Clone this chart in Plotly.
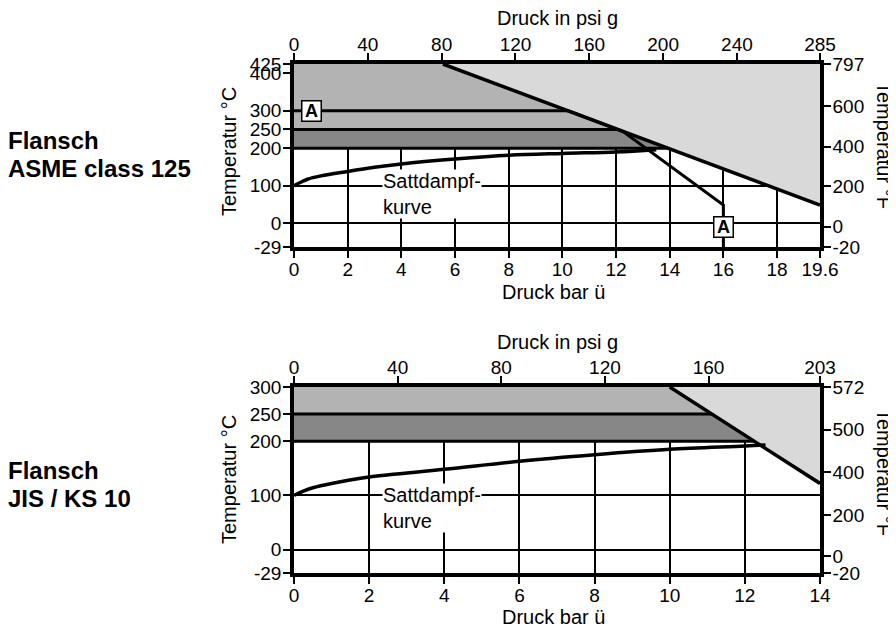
import numpy as np
import plotly.graph_objects as go

# the page body has an 8 px margin, so the figure is laid out in screen pixels minus 8
OFF = 8
W, H = 896 - OFF, 626 - OFF
FONT = "Liberation Sans, Arial, Helvetica, sans-serif"

# ---------------- top chart: Flansch ASME class 125 ----------------
top_bar_ticks = [0, 2, 4, 6, 8, 10, 12, 14, 16, 18, 19.6]
top_bar_labels = ["0", "2", "4", "6", "8", "10", "12", "14", "16", "18", "19.6"]
top_psi_ticks = [0, 40, 80, 120, 160, 200, 240, 285]
top_psi_labels = ["0", "40", "80", "120", "160", "200", "240", "285"]
top_c_ticks = [425, 400, 300, 250, 200, 100, 0, -29]
top_c_labels = ["425", "400", "300", "250", "200", "100", "0", "-29"]
top_f_labels = ["797", "600", "400", "200", "0", "-20"]
top_f_pos_c = [425, 313, 204, 98, -4.4, -29]

top_limit_x = [5.55, 19.6]
top_limit_t = [425, 48]
top_a_x = [0, 10.22, 12.25, 16, 16]
top_a_t = [300, 300, 245, 48, -29]
top_sat_x = [0, 0.25, 0.5, 1, 2, 3, 4, 6, 8, 10, 12, 13.5]
top_sat_t = [100, 109, 117, 126, 138, 149, 158, 171, 181, 186, 190, 196]
top_bands = [250, 200]
top_tmax, top_tmin = 425, -29
top_xmax = 19.6

# ---------------- bottom chart: Flansch JIS / KS 10 ----------------
bot_bar_ticks = [0, 2, 4, 6, 8, 10, 12, 14]
bot_bar_labels = ["0", "2", "4", "6", "8", "10", "12", "14"]
bot_psi_ticks = [0, 40, 80, 120, 160, 203]
bot_psi_labels = ["0", "40", "80", "120", "160", "203"]
bot_c_ticks = [300, 250, 200, 100, 0, -29]
bot_c_labels = ["300", "250", "200", "100", "0", "-29"]
bot_f_labels = ["572", "500", "400", "200", "0", "-20"]
bot_f_pos_c = [300, 221, 143, 64, -8, -29]

bot_limit_x = [10.0, 14]
bot_limit_t = [300, 122]
bot_sat_x = [0, 0.25, 0.5, 1, 2, 4, 6, 8, 10, 12, 12.55]
bot_sat_t = [100, 108, 114, 122, 134, 148, 163, 175, 185, 191, 193]
bot_bands = [250, 200]
bot_tmax, bot_tmin = 300, -29
bot_xmax = 14

# the diagram stretches the segment below 0 °C
K_TOP = 64 / 29
K_BOT = 43.3 / 29


def disp(vals, k):
    return [v if v >= 0 else v * k for v in vals]


def limit_x_at(t, lx, lt):
    return float(np.interp(t, lt[::-1], lx[::-1]))


LIGHT, MED, DARK = "#d9d9d9", "#b3b3b3", "#878787"

fig = go.Figure()


def add_chart(xa, ya, lx, lt, bands, tmax, xmax, sat_x, sat_t, k, a_path=None):
    x_up = limit_x_at(bands[0], lx, lt)
    x_lo = limit_x_at(bands[1], lx, lt)
    fig.add_trace(go.Scatter(x=[lx[0], xmax, lx[1]], y=disp([tmax, tmax, lt[1]], k),
                             fill="toself", fillcolor=LIGHT, mode="none",
                             xaxis=xa, yaxis=ya, hoverinfo="skip", showlegend=False))
    fig.add_trace(go.Scatter(x=[0, 0, lx[0], x_up], y=disp([bands[0], tmax, tmax, bands[0]], k),
                             fill="toself", fillcolor=MED, mode="none",
                             xaxis=xa, yaxis=ya, hoverinfo="skip", showlegend=False))
    fig.add_trace(go.Scatter(x=[0, 0, x_up, x_lo], y=disp([bands[1], bands[0], bands[0], bands[1]], k),
                             fill="toself", fillcolor=DARK, mode="none",
                             xaxis=xa, yaxis=ya, hoverinfo="skip", showlegend=False))
    for t, xe in zip(bands, [x_up, x_lo]):
        fig.add_trace(go.Scatter(x=[0, xe], y=disp([t, t], k), mode="lines",
                                 line=dict(color="black", width=3),
                                 xaxis=xa, yaxis=ya, hoverinfo="skip", showlegend=False))
    fig.add_trace(go.Scatter(x=lx, y=disp(lt, k), mode="lines",
                             line=dict(color="black", width=3.5),
                             xaxis=xa, yaxis=ya, hoverinfo="skip", showlegend=False))
    if a_path is not None:
        fig.add_trace(go.Scatter(x=a_path[0], y=disp(a_path[1], k), mode="lines",
                                 line=dict(color="black", width=3),
                                 xaxis=xa, yaxis=ya, hoverinfo="skip", showlegend=False))
    fig.add_trace(go.Scatter(x=sat_x, y=disp(sat_t, k), mode="lines",
                             line=dict(color="black", width=3.5, shape="spline"),
                             xaxis=xa, yaxis=ya, hoverinfo="skip", showlegend=False))


add_chart("x", "y", top_limit_x, top_limit_t, top_bands, top_tmax, top_xmax,
          top_sat_x, top_sat_t, K_TOP, a_path=(top_a_x, top_a_t))
add_chart("x3", "y3", bot_limit_x, bot_limit_t, bot_bands, bot_tmax, bot_xmax,
          bot_sat_x, bot_sat_t, K_BOT)
fig.add_trace(go.Scatter(x=[], y=[], xaxis="x2", yaxis="y2", showlegend=False))
fig.add_trace(go.Scatter(x=[], y=[], xaxis="x4", yaxis="y4", showlegend=False))


def px(p):
    return (p - OFF) / W


def py(p):
    return 1 - (p - OFF) / H


tickfont = dict(family=FONT, size=19, color="black")
common = dict(showline=True, linecolor="black", linewidth=3.5, ticks="outside",
              ticklen=7, tickwidth=1.5, tickcolor="black", tickfont=tickfont,
              zeroline=False, automargin=False, fixedrange=True)
xcommon = dict(ticklabelstandoff=-5, **common)
ycommon = dict(ticklabelstandoff=-2, **common)
xdom = [px(294), px(820)]
grid = dict(showgrid=True, gridcolor="black", gridwidth=1.5)

fig.update_layout(
    width=W, height=H, margin=dict(l=0, r=0, t=0, b=0), autosize=False,
    paper_bgcolor="white", plot_bgcolor="white", showlegend=False,
    xaxis=dict(domain=xdom, range=[0, top_xmax], anchor="y", tickmode="array",
               tickvals=top_bar_ticks, ticktext=top_bar_labels, **grid, **xcommon),
    xaxis2=dict(overlaying="x", side="top", anchor="y", range=[0, 285], tickmode="array",
                tickvals=top_psi_ticks, ticktext=top_psi_labels, showgrid=False, **xcommon),
    yaxis=dict(domain=[py(247), py(64)], range=[top_tmin * K_TOP, top_tmax], anchor="x",
               tickmode="array", tickvals=disp(top_c_ticks, K_TOP), ticktext=top_c_labels,
               **grid, **ycommon),
    yaxis2=dict(overlaying="y", side="right", anchor="x", range=[top_tmin * K_TOP, top_tmax],
                tickmode="array", tickvals=disp(top_f_pos_c, K_TOP), ticktext=top_f_labels,
                showgrid=False, **ycommon),
    xaxis3=dict(domain=xdom, range=[0, bot_xmax], anchor="y3", tickmode="array",
                tickvals=bot_bar_ticks, ticktext=bot_bar_labels, **grid, **xcommon),
    xaxis4=dict(overlaying="x3", side="top", anchor="y3", range=[0, 203], tickmode="array",
                tickvals=bot_psi_ticks, ticktext=bot_psi_labels, showgrid=False, **xcommon),
    yaxis3=dict(domain=[py(573), py(387)], range=[bot_tmin * K_BOT, bot_tmax], anchor="x3",
                tickmode="array", tickvals=disp(bot_c_ticks, K_BOT), ticktext=bot_c_labels,
                **grid, **ycommon),
    yaxis4=dict(overlaying="y3", side="right", anchor="x3", range=[bot_tmin * K_BOT, bot_tmax],
                tickmode="array", tickvals=disp(bot_f_pos_c, K_BOT), ticktext=bot_f_labels,
                showgrid=False, **ycommon),
)

ann = []


def text(x, y, s, size=20, angle=0, xanchor="center", **kw):
    ann.append(dict(x=px(x), y=py(y), xref="paper", yref="paper", text=s, showarrow=False,
                    textangle=angle, xanchor=xanchor, yanchor="middle", align="left",
                    font=dict(family=FONT, size=size, color="black"), **kw))


text(6, 140, "<b>Flansch</b>", size=24, xanchor="left")
text(6, 168, "<b>ASME class 125</b>", size=24, xanchor="left")
text(6, 470, "<b>Flansch</b>", size=24, xanchor="left")
text(6, 498, "<b>JIS / KS 10</b>", size=24, xanchor="left")
for yt, yb, yl, yr in [(18, 292, 152, 145), (342, 617, 480, 472)]:
    text(557, yt, "Druck in psi g")
    text(553, yb, "Druck bar ü")
    text(229, yl, "Temperatur °C", angle=-90)
    text(884, yr, "Temperatur °F", angle=90)
text(432, 194, "Sattdampf-<br>kurve", bgcolor="white", borderpad=0)
text(432, 508, "Sattdampf-<br>kurve", bgcolor="white", borderpad=0)
fig.update_layout(annotations=ann)

for ax_, ay_ in [(0.67, 300), (16, -4.2)]:
    fig.add_annotation(x=ax_, y=disp([ay_], K_TOP)[0], xref="x", yref="y", text="<b>A</b>",
                       showarrow=False, bgcolor="white", bordercolor="black", borderwidth=1.5,
                       borderpad=1, width=16, height=17,
                       font=dict(family=FONT, size=18, color="black"))

fig.write_html("out.html")
